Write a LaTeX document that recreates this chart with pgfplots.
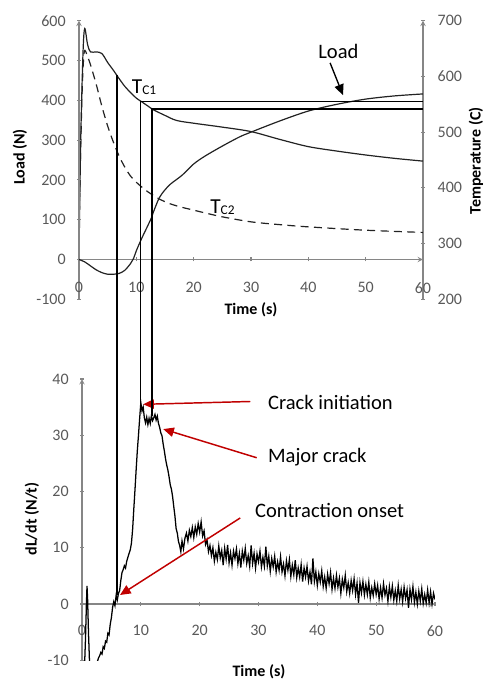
\documentclass[border=0pt]{standalone}
\usepackage{fontspec}
\setmainfont{Carlito}
\usepackage{pgfplots}
\pgfplotsset{compat=1.18}
\usetikzlibrary{arrows.meta}
\definecolor{axisGray}{HTML}{868686}
\definecolor{tickGray}{HTML}{595959}
\definecolor{crackRed}{HTML}{C00000}
\definecolor{curveInk}{HTML}{222222}

\pgfplotsset{
  excelish/.style={
    scale only axis,
    xmin=0, xmax=60,
    xtick={0,10,...,60},
    axis line style={axisGray, line width=0.8pt, -},
    every inner x axis line/.append style={-},
    every outer y axis line/.append style={-},
    every outer x axis line/.append style={-},
    tick style={axisGray, line width=0.8pt},
    major tick length=3pt,
    tick align=outside,
    ticklabel style={font=\fontsize{12}{14}\selectfont, text=tickGray},
    /pgf/number format/assume math mode=true,
    hide obscured x ticks=false,
  },
}
\newcommand{\bigtxt}{\fontsize{15.4}{18}\selectfont}
\newcommand{\lbl}{\fontsize{12}{14}\selectfont\bfseries}

\begin{document}
\begin{tikzpicture}[x=0.75pt, y=0.75pt]
\useasboundingbox (0,0) rectangle (485,679);

% top: temperature (right axis)
\begin{axis}[excelish,
  at={(59.25pt,284.775pt)}, anchor=south west,
  width=258pt, height=208.95pt,
  ymin=200, ymax=700, ytick={200,300,...,700},
  axis x line=none, axis y line=right,
  yticklabel style={xshift=6pt},
]
% T_C1
\addplot[curveInk, line width=0.9pt, smooth] coordinates {
  (0,275) (0.3,485) (0.7,643) (1.0,686) (1.5,657) (2,644) (3,644) (4,641)
  (5,625) (6,611) (7,596) (8,582) (9,571) (10,561) (11,554) (12,547)
  (13,540) (15,530) (17,521) (20,516) (25,509) (30,501) (35,487)
  (40,474) (45,466) (50,459) (55,453) (60,448)
};
% T_C2
\addplot[curveInk, line width=0.9pt, dash pattern=on 6pt off 4pt, smooth] coordinates {
  (0,329) (0.5,557) (0.9,643) (1.5,635) (2,621) (3,586) (4,546) (5,511)
  (6,482) (7,457) (8,437) (9,421) (10,410) (11,401) (12,393) (14,380)
  (16,371) (18,365) (20,360) (22,355) (25,348) (30,339) (35,334)
  (40,330) (50,324) (60,320)
};
\end{axis}

% top: load (left axis)
\begin{axis}[excelish,
  at={(59.25pt,284.775pt)}, anchor=south west,
  width=258pt, height=208.95pt,
  ymin=-100, ymax=600, ytick={-100,0,...,600},
  axis x line=middle, axis y line=left,
  xticklabel style={yshift=-12pt},
  yticklabel style={xshift=-5pt},
]
\addplot[curveInk, line width=0.9pt, smooth] coordinates {
  (0,0) (1,-6) (2,-16) (3,-26) (4,-33) (5,-37) (6,-37) (7,-35) (8,-27)
  (9,-10) (9.5,2) (10,22) (11,55) (12,85) (12.7,107) (13,120) (14,155)
  (15,175) (16,190) (18,212) (20,240) (22,260) (25,285) (28,308)
  (30,320) (35,348) (40,373) (45,390) (50,403) (55,411) (60,416)
};
\coordinate (v1t) at (axis cs:6.58,463);
\coordinate (v2t) at (axis cs:10.73,397);
\coordinate (v3t) at (axis cs:12.73,378);
\coordinate (h2) at (axis cs:60,397);
\coordinate (h3) at (axis cs:60,378);
\node[anchor=base west, inner sep=0pt, font=\fontsize{16}{18}\selectfont]
  at (axis cs:9.19,418) {T\raisebox{-1pt}{\fontsize{10}{12}\selectfont C1}};
\node[anchor=base west, inner sep=0pt, font=\fontsize{16}{18}\selectfont]
  at (axis cs:22.85,116) {T\raisebox{-1pt}{\fontsize{10}{12}\selectfont C2}};
\node[anchor=base west, inner sep=0pt, font=\bigtxt] at (axis cs:41.7,505) {Load};
\draw[line width=1pt, -{Triangle[length=8pt,width=7pt]}]
  (axis cs:43.8,494) -- (axis cs:46.05,413);
\end{axis}

% bottom: dL/dt
\begin{axis}[excelish,
  at={(61.5pt,14.06pt)}, anchor=south west,
  width=264.75pt, height=210.94pt,
  ymin=-10, ymax=40, ytick={-10,0,...,40},
  axis x line=middle, axis y line=left,
  xticklabel style={yshift=-11pt},
  yticklabel style={xshift=-5pt},
]
\addplot[black, line width=0.95pt] coordinates {
  (0.4,-12) (0.6,-6) (0.75,0) (0.85,3.2) (0.95,1) (1.1,-5) (1.3,-11) (1.6,-16)
  (2.3,-14) (2.6,-10.3) (2.8,-9.6) (3.0,-9.2) (3.2,-8.6) (3.4,-8.9) (3.6,-7.6)
  (3.8,-7.9) (4.0,-6.6) (4.2,-6.8) (4.4,-5.2) (4.6,-5.5) (4.8,-3.6) (5.0,-2.4)
  (5.2,-0.6) (5.4,0.4) (5.6,-0.3) (5.8,1.5) (6.0,0.7) (6.2,1.9) (6.4,2.4)
  (6.6,4.2) (6.8,5.6) (7.0,6.1) (7.2,6.8) (7.4,6.4) (7.6,7.6) (7.8,8.3)
  (8.0,9.0) (8.2,9.6) (8.4,10.8) (8.6,13.2) (8.8,16.8) (9.0,20.2) (9.2,23.8)
  (9.4,27.2) (9.6,30.0) (9.8,33.0) (10.0,35.8) (10.2,34.3) (10.4,35.0)
  (10.6,33.1) (10.8,32.2) (11.0,33.2) (11.2,31.9) (11.4,33.0) (11.6,32.1)
  (11.8,33.5) (12.0,32.6) (12.2,33.1) (12.4,33.7) (12.6,32.7) (12.8,33.4)
  (13.0,32.1) (13.2,31.4) (13.4,30.4) (13.6,29.9) (13.8,28.4) (14.0,27.2)
  (14.2,25.8) (14.4,24.7) (14.6,23.8) (14.8,22.6) (15.0,21.2) (15.2,20.4)
  (15.4,19.1) (15.6,17.3) (15.8,15.6) (16.0,13.4) (16.2,12.6) (16.4,11.1)
  (16.6,10.4) (16.8,9.3) (17.0,11.2) (17.25,9.8) (17.5,11.7) (17.75,12.6)
  (18.0,11.2) (18.25,13.1) (18.5,12.0) (18.75,13.6) (19.0,11.8) (19.25,13.7)
  (19.5,12.4) (19.75,14.3) (20.0,12.8) (20.25,14.6) (20.5,12.1) (20.75,13.0)
  (21.0,10.6) (21.25,11.4) (21.5,9.3) (21.75,10.4) (22.0,8.6)
  (22.25,10.0) (22.5,7.6) (22.75,9.2) (23.0,7.9) (23.25,10.3) (23.5,8.2)
  (23.75,9.5) (24.0,6.9) (24.25,9.9) (24.5,8.0) (24.75,10.5) (25.0,7.3)
  (25.25,9.1) (25.5,6.9) (25.75,9.4) (26.0,8.1) (26.25,9.8) (26.5,7.2)
  (26.75,9.0) (27.0,6.5) (27.25,9.4) (27.5,7.8) (27.75,9.9) (28.0,7.2)
  (28.25,8.6) (28.5,6.7) (28.75,10.4) (29.0,7.2) (29.25,9.0) (29.5,6.4)
  (29.75,8.9) (30.0,7.5) (30.25,9.4) (30.5,6.6) (30.75,8.3) (31.0,6.7)
  (31.25,10.2) (31.5,6.8) (31.75,8.5) (32.0,5.8) (32.25,8.1) (32.5,6.6)
  (32.75,8.5) (33.0,5.7) (33.25,7.5) (33.5,6.0) (33.75,8.4) (34.0,5.7)
  (34.25,7.1) (34.5,5.0) (34.75,7.7) (35.0,6.0) (35.25,7.9) (35.5,4.9)
  (35.75,6.9) (36.0,5.2) (36.25,7.8) (36.5,4.7) (36.75,6.4) (37.0,4.8)
  (37.25,7.0) (37.5,4.0) (37.75,6.4) (38.0,4.8) (38.25,6.7) (38.5,4.1)
  (38.75,5.7) (39.0,3.5) (39.25,8.1) (39.5,4.0) (39.75,5.7) (40.0,3.3)
  (40.25,5.4) (40.5,3.9) (40.75,5.9) (41.0,3.1) (41.25,4.8) (41.5,2.8)
  (41.75,5.3) (42.0,3.6) (42.25,5.6) (42.5,2.6) (42.75,4.6) (43.0,2.8)
  (43.25,5.1) (43.5,3.0) (43.75,4.6) (44.0,1.9) (44.25,4.4) (44.5,2.9)
  (44.75,5.1) (45.0,2.2) (45.25,3.8) (45.5,1.9) (45.75,4.2) (46.0,2.4)
  (46.25,4.5) (46.5,1.7) (46.75,3.7) (47.0,0.2) (47.25,3.8) (47.5,2.0)
  (47.75,4.0) (48.0,1.6) (48.25,3.5) (48.5,1.7) (48.75,3.9) (49.0,1.1)
  (49.25,2.9) (49.5,1.5) (49.75,3.6) (50.0,1.7) (50.25,3.3) (50.5,0.9)
  (50.75,2.9) (51.0,1.1) (51.25,3.6) (51.5,1.6) (51.75,2.8) (52.0,0.5)
  (52.25,3.1) (52.5,1.2) (52.75,3.2) (53.0,0.7) (53.25,2.4) (53.5,0.5)
  (53.75,3.3) (54.0,0.9) (54.25,2.6) (54.5,0.4) (54.75,3.0) (55.0,1.0)
  (55.25,2.5) (55.5,-0.7) (55.75,2.6) (56.0,0.8) (56.25,3.1) (56.5,0.3)
  (56.75,2.1) (57.0,0.0) (57.25,2.3) (57.5,0.5) (57.75,2.7) (58.0,0.1)
  (58.25,1.7) (58.5,0.2) (58.75,2.5) (59.0,0.2) (59.25,2.2) (59.5,0.0)
  (59.75,1.9) (60.0,0.8)
};
\coordinate (v1b) at (axis cs:5.9,1.6);
\coordinate (v2b) at (axis cs:9.95,35.8);
\coordinate (v3b) at (axis cs:11.9,33.5);
\draw[crackRed, line width=1.1pt, -{Triangle[length=8pt,width=7pt]}]
  (axis cs:28.6,36.0) -- (axis cs:10.4,35.5);
\draw[crackRed, line width=1.1pt, -{Triangle[length=8pt,width=7pt]}]
  (axis cs:29.7,26.0) -- (axis cs:13.8,31.1);
\draw[crackRed, line width=1.1pt, -{Triangle[length=8pt,width=7pt]}]
  (axis cs:26.9,15.3) -- (axis cs:6.46,1.6);
\node[anchor=west, inner sep=0pt, font=\bigtxt] at (axis cs:31.6,35.9) {Crack initiation};
\node[anchor=west, inner sep=0pt, font=\bigtxt] at (axis cs:31.6,26.1) {Major crack};
\node[anchor=west, inner sep=0pt, font=\bigtxt] at (axis cs:29.4,16.6) {Contraction onset};
\end{axis}

% connecting lines
\draw[line width=1.4pt, line join=miter] (h2) -- (v2t) -- (v2t |- v2b);
\draw[line width=1.4pt, line join=miter] (h3) -- (v3t) -- (v3t |- v3b);
\draw[line width=1.4pt] (v1t) -- (v1t |- v1b);

% axis titles
\node[font=\lbl, rotate=90] at (20,522) {Load (N)};
\node[font=\lbl, rotate=90] at (476,518) {Temperature (C)};
\node[font=\lbl] at (251,369) {Time (s)};
\node[font=\lbl, rotate=90] at (32,160) {dL/dt (N/t)};
\node[font=\lbl] at (259,7) {Time (s)};
\end{tikzpicture}
\end{document}
